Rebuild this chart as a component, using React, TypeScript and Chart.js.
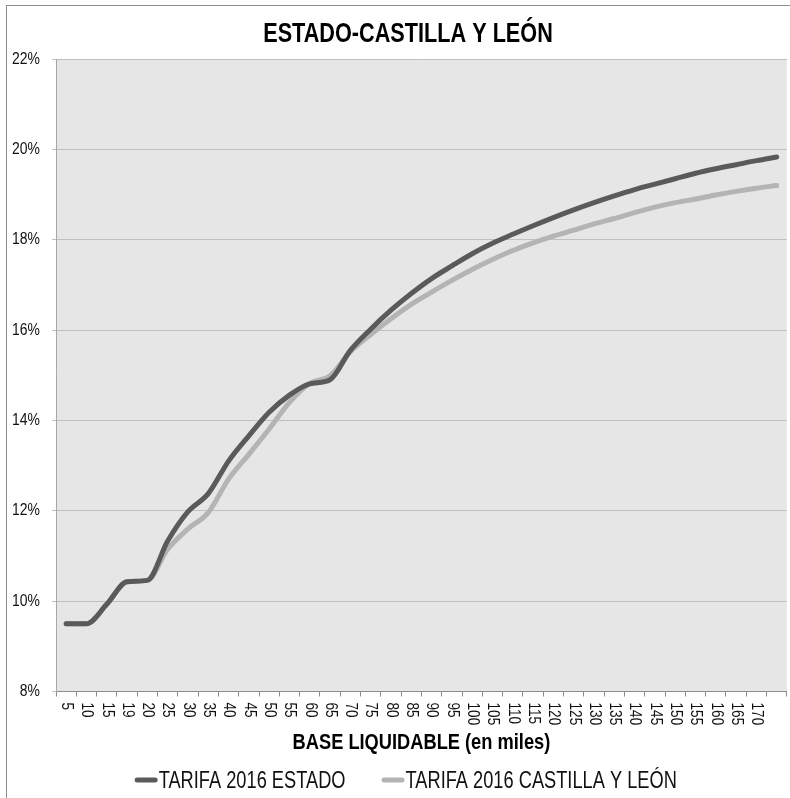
import React, { useEffect, useRef } from "react";
import { Chart, registerables } from "chart.js";

Chart.register(...registerables);

const categories: string[] = [
  "5", "10", "15", "19", "20", "25", "30", "35", "40", "45", "50", "55", "60", "65", "70", "75",
  "80", "85", "90", "95", "100", "105", "110", "115", "120", "125", "130", "135", "140", "145",
  "150", "155", "160", "165", "170", "",
];

const tarifaEstado: number[] = [
  9.5, 9.5, 9.93, 10.43, 10.46, 11.33, 11.98, 12.38, 13.1, 13.66, 14.18, 14.56, 14.81, 14.9, 15.55,
  16.02, 16.44, 16.81, 17.14, 17.42, 17.69, 17.92, 18.12, 18.31, 18.49, 18.66, 18.82, 18.97, 19.11,
  19.23, 19.35, 19.47, 19.57, 19.66, 19.75, 19.83,
];

const tarifaCyL: number[] = [
  9.5, 9.5, 9.93, 10.43, 10.46, 11.15, 11.6, 11.96, 12.7, 13.25, 13.81, 14.4, 14.82, 14.99, 15.52,
  15.9, 16.25, 16.57, 16.84, 17.1, 17.34, 17.56, 17.76, 17.93, 18.08, 18.21, 18.35, 18.47, 18.6,
  18.72, 18.82, 18.9, 18.99, 19.07, 19.14, 19.2,
];

const seriesNames: string[] = ["TARIFA 2016 ESTADO", "TARIFA 2016 CASTILLA Y LEÓN"];
const yTicks: number[] = [8, 10, 12, 14, 16, 18, 20, 22];
const chartTitle = "ESTADO-CASTILLA Y LEÓN";
const xTitle = "BASE LIQUIDABLE (en miles)";

const FONT = "'Liberation Sans', Arial, sans-serif";
const DARK = "#5a5a5a";
const LIGHT = "#b4b4b4";
const TEXT = "#111111";

function narrowText(
  ctx: CanvasRenderingContext2D,
  text: string,
  x: number,
  y: number,
  font: string,
  sx: number,
  align: "left" | "center" | "right",
  baseline: CanvasTextBaseline,
  color: string
) {
  ctx.save();
  ctx.font = font;
  ctx.fillStyle = color;
  ctx.textAlign = "left";
  ctx.textBaseline = baseline;
  const w = ctx.measureText(text).width * sx;
  const left = align === "center" ? x - w / 2 : align === "right" ? x - w : x;
  ctx.translate(left, y);
  ctx.scale(sx, 1);
  ctx.fillText(text, 0, 0);
  ctx.restore();
  return w;
}

export default function App() {
  const ref = useRef<HTMLCanvasElement | null>(null);

  useEffect(() => {
    if (!ref.current) return;

    const bgPlugin = {
      id: "bgPlugin",
      beforeDraw(chart: any) {
        const { ctx, chartArea } = chart;
        ctx.save();
        ctx.fillStyle = "#ffffff";
        ctx.fillRect(0, 0, chart.width, chart.height);
        ctx.fillStyle = "#e6e6e6";
        ctx.fillRect(chartArea.left, chartArea.top, chartArea.right - chartArea.left, chartArea.bottom - chartArea.top);
        ctx.strokeStyle = "#8c8c8c";
        ctx.lineWidth = 1;
        ctx.strokeRect(6.5, 5.5, chart.width + 20, chart.height + 20);
        ctx.restore();
      },
    };

    const textPlugin = {
      id: "textPlugin",
      afterDraw(chart: any) {
        const { ctx, chartArea } = chart;
        const xs = chart.scales.x;
        const ys = chart.scales.y;

        // Title
        narrowText(ctx, chartTitle, 408, 42, `bold 28.5px ${FONT}`, 0.76, "center", "alphabetic", "#000");

        // Y tick labels
        yTicks.forEach((v) => {
          const y = ys.getPixelForValue(v);
          narrowText(ctx, `${v}%`, chartArea.left - 16, y, `17px ${FONT}`, 0.82, "right", "middle", TEXT);
        });

        // X tick labels, rotated clockwise (read top to bottom)
        ctx.save();
        ctx.font = `17px ${FONT}`;
        ctx.fillStyle = TEXT;
        ctx.textAlign = "left";
        ctx.textBaseline = "middle";
        xs.ticks.forEach((t: any, i: number) => {
          const label = categories[t.value] ?? "";
          if (!label) return;
          const x = xs.getPixelForTick(i);
          ctx.save();
          ctx.translate(x + 0.5, chartArea.bottom + 11);
          ctx.rotate(Math.PI / 2);
          ctx.scale(0.8, 1);
          ctx.fillText(label, 0, 0);
          ctx.restore();
        });
        ctx.restore();

        // X axis title
        narrowText(ctx, xTitle, (chartArea.left + chartArea.right) / 2, 749, `bold 22px ${FONT}`, 0.83, "center", "alphabetic", "#000");

        // Legend
        const lf = `24px ${FONT}`;
        const sxL = 0.76;
        ctx.save();
        ctx.font = lf;
        const widths = seriesNames.map((s) => ctx.measureText(s).width * sxL);
        ctx.restore();
        const sw = 22;
        const gap = 1.5;
        const itemGap = 36.5;
        const total = widths.reduce((a, w) => a + sw + gap + w, 0) + itemGap * (seriesNames.length - 1);
        let cx = 406 - total / 2;
        const colors = [DARK, LIGHT];
        seriesNames.forEach((name, i) => {
          ctx.save();
          ctx.strokeStyle = colors[i];
          ctx.lineWidth = 5;
          ctx.lineCap = "round";
          ctx.beginPath();
          ctx.moveTo(cx + 2, 780);
          ctx.lineTo(cx + sw - 2, 780);
          ctx.stroke();
          ctx.restore();
          cx += sw + gap;
          narrowText(ctx, name, cx, 788, lf, sxL, "left", "alphabetic", TEXT);
          cx += widths[i] + itemGap;
        });
      },
    };

    const chart = new Chart(ref.current, {
      type: "line",
      data: {
        labels: categories,
        datasets: [
          {
            label: seriesNames[0],
            data: tarifaEstado,
            borderColor: DARK,
            backgroundColor: DARK,
            borderWidth: 5,
            pointRadius: 0,
            cubicInterpolationMode: "monotone",
            borderCapStyle: "round",
            borderJoinStyle: "round",
          },
          {
            label: seriesNames[1],
            data: tarifaCyL,
            borderColor: LIGHT,
            backgroundColor: LIGHT,
            borderWidth: 5,
            pointRadius: 0,
            cubicInterpolationMode: "monotone",
            borderCapStyle: "round",
            borderJoinStyle: "round",
          },
        ],
      },
      options: {
        animation: false,
        responsive: false,
        maintainAspectRatio: false,
        layout: { padding: { left: 6, right: 7, top: 59, bottom: 0 } },
        plugins: {
          title: { display: false },
          legend: { display: false },
          tooltip: { enabled: false },
        },
        scales: {
          x: {
            type: "category",
            offset: true,
            afterFit(scale: any) {
              scale.height = 106.5;
            },
            grid: {
              display: true,
              drawOnChartArea: false,
              drawTicks: true,
              tickLength: 5,
              offset: true,
              color: "#8c8c8c",
            },
            border: { display: true, color: "#8c8c8c" },
            ticks: {
              autoSkip: false,
              minRotation: 90,
              maxRotation: 90,
              padding: 4,
              color: "rgba(0,0,0,0)",
              font: { family: FONT, size: 16 },
            },
          },
          y: {
            min: 8,
            max: 22,
            afterFit(scale: any) {
              scale.width = 50;
            },
            afterBuildTicks(scale: any) {
              scale.ticks = yTicks.map((v) => ({ value: v }));
            },
            grid: {
              color: "#c0c0c0",
              lineWidth: 1,
              drawTicks: true,
              tickLength: 4,
            },
            border: { display: true, color: "#a8a8a8" },
            ticks: {
              padding: 12,
              color: "rgba(0,0,0,0)",
              font: { family: FONT, size: 17 },
              callback: (v: any) => `${v}%`,
            },
          },
        },
      },
      plugins: [bgPlugin, textPlugin],
    });

    return () => chart.destroy();
  }, []);

  return (
    <div style={{ position: "absolute", left: 0, top: 0, width: 790, height: 798, overflow: "hidden", background: "#fff" }}>
      <canvas ref={ref} width={800} height={798} style={{ display: "block", width: 800, height: 798 }} />
    </div>
  );
}
